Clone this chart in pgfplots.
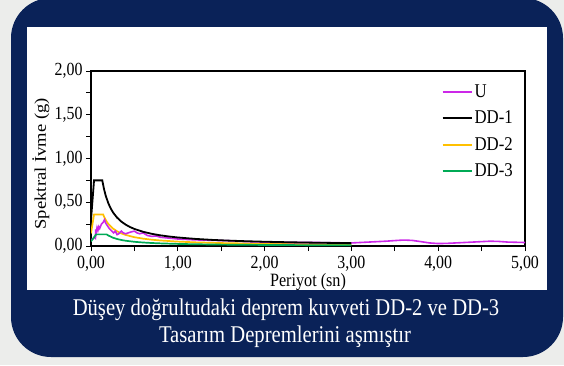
\documentclass[border=0pt]{standalone}
\usepackage{fontspec}
\setmainfont{Liberation Serif}
\usepackage{graphicx}
\usepackage{pgfplots}
\pgfplotsset{compat=1.18}
\newcommand\sq[1]{\scalebox{0.86}[1]{#1}}
\definecolor{navy}{RGB}{10,34,88}
\definecolor{bgc}{RGB}{236,237,235}
\definecolor{cU}{RGB}{204,40,232}
\definecolor{cDDtwo}{RGB}{255,192,0}
\definecolor{cDDthree}{RGB}{0,170,85}
\begin{document}
\begin{tikzpicture}[x=1pt,y=1pt]
\clip (0,0) rectangle (564,365);
\fill[bgc] (0,0) rectangle (564,365);
\fill[navy, rounded corners=40pt] (11,8) rectangle (563,367);
\fill[white] (27,75) rectangle (547,338);
\begin{axis}[
  at={(91pt,119pt)}, anchor=south west,
  scale only axis, width=434pt, height=175pt,
  xmin=0, xmax=5, ymin=0, ymax=2,
  xtick={0,1,2,3,4,5},
  xticklabels={{\sq{0,00}},{\sq{1,00}},{\sq{2,00}},{\sq{3,00}},{\sq{4,00}},{\sq{5,00}}},
  minor xtick={0.5,1.5,2.5,3.5,4.5},
  ytick={0,0.5,1,1.5,2},
  yticklabels={{\sq{0,00}},{\sq{0,50}},{\sq{1,00}},{\sq{1,50}},{\sq{2,00}}},
  minor ytick={0.25,0.75,1.25,1.75},
  tick align=outside, tick pos=left,
  major tick length=5pt, minor tick length=5pt,
  every tick/.style={black, line width=1pt},
  axis line style={line width=1.1pt},
  ticklabel style={font=\fontsize{18.5}{20}\selectfont},
  xticklabel style={yshift=-2pt},
  xlabel={\sq{Periyot (sn)}},
  ylabel={\scalebox{1}[0.88]{Spektral İvme (g)}},
  xlabel style={font=\fontsize{18.8}{20}\selectfont, at={(axis description cs:0.5,0)}, anchor=center, yshift=-36pt},
  ylabel style={font=\fontsize{18.6}{20}\selectfont, at={([xshift=-50pt]axis description cs:0,0.47)}, anchor=center},
  legend style={draw=none, fill=none, at={(rel axis cs:0.801,0.945)}, anchor=north west,
    font=\fontsize{19.5}{20}\selectfont, row sep=8pt},
  legend cell align=left,
  legend image code/.code={\draw[#1] (0pt,0pt) -- (29pt,0pt);},
]
\addlegendimage{color=cU, line width=1.6pt}
\addlegendentry{\sq{U}}
\addlegendimage{color=black, line width=1.8pt}
\addlegendentry{\sq{DD-1}}
\addlegendimage{color=cDDtwo, line width=1.7pt}
\addlegendentry{\sq{DD-2}}
\addlegendimage{color=cDDthree, line width=1.7pt}
\addlegendentry{\sq{DD-3}}

% DD-2
\addplot[cDDtwo, line width=1.7pt, forget plot] coordinates {
(0,0.144) (0.035,0.36) (0.14,0.36) (0.16,0.315) (0.18,0.28) (0.2,0.252) (0.25,0.2016)
(0.3,0.168) (0.35,0.144) (0.4,0.126) (0.5,0.1008) (0.6,0.084) (0.7,0.072) (0.8,0.063)
(1.0,0.0504) (1.2,0.042) (1.5,0.0336) (2.0,0.0252) (2.5,0.0202) (3.0,0.0168)};
% U
\addplot[cU, line width=1.6pt, forget plot] coordinates {
(0,0.07) (0.02,0.08) (0.04,0.10) (0.05,0.09) (0.055,0.19) (0.06,0.15) (0.07,0.21) (0.08,0.18)
(0.09,0.22) (0.1,0.2) (0.12,0.25) (0.14,0.27) (0.155,0.30) (0.17,0.26) (0.19,0.23) (0.21,0.2)
(0.24,0.17) (0.26,0.15) (0.28,0.17) (0.3,0.13) (0.32,0.14) (0.35,0.17) (0.37,0.15) (0.4,0.14)
(0.43,0.15) (0.46,0.16) (0.5,0.17) (0.53,0.15) (0.56,0.14) (0.6,0.15) (0.65,0.12) (0.7,0.11)
(0.75,0.115) (0.8,0.10) (0.85,0.095) (0.9,0.09) (0.95,0.085) (1.0,0.08) (1.1,0.075) (1.2,0.07)
(1.4,0.065) (1.6,0.06) (1.8,0.05) (2.0,0.045) (2.3,0.04) (2.6,0.04) (3.0,0.035) (3.2,0.045)
(3.4,0.055) (3.5,0.062) (3.6,0.068) (3.7,0.064) (3.8,0.05) (3.9,0.035) (4.0,0.028) (4.1,0.03)
(4.3,0.04) (4.5,0.05) (4.6,0.055) (4.7,0.052) (4.8,0.045) (5.0,0.04)};
% DD-1
\addplot[black, line width=1.8pt, forget plot] coordinates {
(0,0.30) (0.035,0.75) (0.13,0.75) (0.15,0.65) (0.17,0.5735) (0.2,0.4875) (0.23,0.424)
(0.26,0.375) (0.3,0.325) (0.35,0.2786) (0.4,0.2438) (0.45,0.2167) (0.5,0.195) (0.6,0.1625)
(0.7,0.1393) (0.8,0.1219) (0.9,0.1083) (1.0,0.0975) (1.2,0.0813) (1.4,0.0696) (1.6,0.0609)
(1.8,0.0542) (2.0,0.0488) (2.3,0.0424) (2.6,0.0375) (3.0,0.0325)};
% DD-3
\addplot[cDDthree, line width=1.7pt, forget plot] coordinates {
(0,0.053) (0.03,0.093) (0.06,0.133) (0.18,0.133) (0.2,0.12) (0.25,0.096) (0.3,0.08)
(0.35,0.0686) (0.4,0.06) (0.5,0.048) (0.6,0.04) (0.7,0.0343) (0.8,0.03) (1.0,0.024)
(1.2,0.02) (1.5,0.016) (2.0,0.012) (2.5,0.0096) (3.0,0.008)};
\end{axis}
\node[text=white, font=\fontsize{24}{27}\selectfont] at (286,55) {\sq{Düşey doğrultudaki deprem kuvveti DD-2 ve DD-3}};
\node[text=white, font=\fontsize{24}{27}\selectfont] at (285,28) {\sq{Tasarım Depremlerini aşmıştır}};
\end{tikzpicture}
\end{document}
